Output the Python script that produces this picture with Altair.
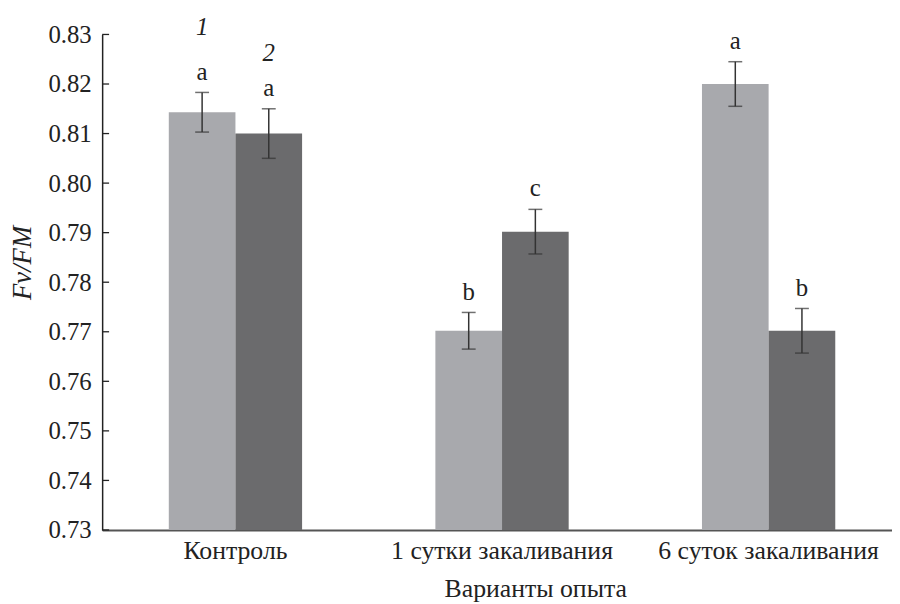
import altair as alt
import pandas as pd

groups = ["Контроль", "1 сутки закаливания", "6 суток закаливания"]
series = ["1", "2"]
means_1 = [0.8143, 0.7702, 0.8200]
means_2 = [0.8100, 0.7902, 0.7702]
err_1 = [0.0040, 0.0037, 0.0045]
err_2 = [0.0050, 0.0045, 0.0045]
letters_1 = ["a", "b", "a"]
letters_2 = ["a", "c", "b"]
y_ticks = [0.73, 0.74, 0.75, 0.76, 0.77, 0.78, 0.79, 0.80, 0.81, 0.82, 0.83]
series_labels = ["1", "2"]
series_label_y = [0.8314, 0.8262]

FONT = "Times New Roman, Liberation Serif, serif"
LIGHT = "#a8a9ad"
DARK = "#6b6b6d"

df = pd.DataFrame({
    "group": groups * 2,
    "series": [series[0]] * 3 + [series[1]] * 3,
    "mean": means_1 + means_2,
    "err": err_1 + err_2,
    "letter": letters_1 + letters_2,
})
df["lo"] = df["mean"] - df["err"]
df["hi"] = df["mean"] + df["err"]

ser_df = pd.DataFrame({
    "group": [groups[0]] * 2,
    "series": series,
    "y": series_label_y,
    "label": series_labels,
})
tick_df = pd.DataFrame({"v": y_ticks})

yscale = alt.Scale(domain=[0.73, 0.83], nice=False, zero=False)

x_enc = alt.X(
    "group:N", sort=groups, title="Варианты опыта",
    scale=alt.Scale(range=[0, 807], paddingInner=0.5, paddingOuter=0.25),
    axis=alt.Axis(labelAngle=0, ticks=False, domainColor="#555555", domainWidth=2,
                  labelFont=FONT, labelFontSize=26, labelPadding=8, labelColor="#222222",
                  labelLimit=0, labelOverlap=False,
                  titleFont=FONT, titleFontSize=26, titleFontWeight="normal", titleColor="#222222",
                  titleX=437, titleY=67, titleBaseline="alphabetic", titleAlign="center"),
)
xo_enc = alt.XOffset("series:N", sort=series, scale=alt.Scale(paddingInner=0, paddingOuter=0))

y_axis = alt.Axis(values=y_ticks, format=".2f", ticks=False, grid=False,
                  domainColor="#222222", domainWidth=1.5,
                  labelFont=FONT, labelFontSize=25, labelPadding=11, labelColor="#222222",
                  title="Fv/FM", titleFont=FONT, titleFontStyle="italic", titleFontWeight="normal",
                  titleFontSize=27, titleColor="#222222",
                  titleX=-66, titleY=230, titleAngle=-90,
                  titleAlign="center", titleBaseline="bottom")

bars = alt.Chart(df).mark_bar().encode(
    x=x_enc,
    xOffset=xo_enc,
    y=alt.Y("mean:Q", scale=yscale, axis=y_axis),
    y2=alt.datum(0.73),
    color=alt.Color("series:N", scale=alt.Scale(domain=series, range=[LIGHT, DARK]), legend=None),
)

err_rule = alt.Chart(df).mark_rule(color="#333333", strokeWidth=1.5).encode(
    x=alt.X("group:N", sort=groups),
    xOffset=xo_enc,
    y=alt.Y("lo:Q", scale=yscale),
    y2="hi:Q",
)

cap_hi = alt.Chart(df).mark_tick(color="#333333", thickness=1.5, size=14, orient="horizontal").encode(
    x=alt.X("group:N", sort=groups),
    xOffset=xo_enc,
    y=alt.Y("hi:Q", scale=yscale),
)
cap_lo = alt.Chart(df).mark_tick(color="#333333", thickness=1.5, size=14, orient="horizontal").encode(
    x=alt.X("group:N", sort=groups),
    xOffset=xo_enc,
    y=alt.Y("lo:Q", scale=yscale),
)

letters = alt.Chart(df).mark_text(font=FONT, fontSize=25, color="#222222", dy=-21, baseline="middle").encode(
    x=alt.X("group:N", sort=groups),
    xOffset=xo_enc,
    y=alt.Y("hi:Q", scale=yscale),
    text="letter:N",
)

ser_text = alt.Chart(ser_df).mark_text(font=FONT, fontSize=25, fontStyle="italic", color="#222222", baseline="middle").encode(
    x=alt.X("group:N", sort=groups),
    xOffset=xo_enc,
    y=alt.Y("y:Q", scale=yscale),
    text="label:N",
)

yticks = alt.Chart(tick_df).mark_rule(color="#222222", strokeWidth=1.3).encode(
    y=alt.Y("v:Q", scale=yscale),
    x=alt.value(0),
    x2=alt.value(7),
)

chart = alt.layer(bars, err_rule, cap_hi, cap_lo, letters, ser_text, yticks).properties(
    width=797,
    height=500,
    padding={"left": 95, "top": 24, "right": 0, "bottom": 72},
    autosize=alt.AutoSizeParams(type="none"),
).configure(
    font=FONT,
).configure_axis(
    labelFont=FONT,
    titleFont=FONT,
).configure_view(
    strokeWidth=0,
)

chart.save("out.html", embed_options={"renderer": "svg", "actions": False})
